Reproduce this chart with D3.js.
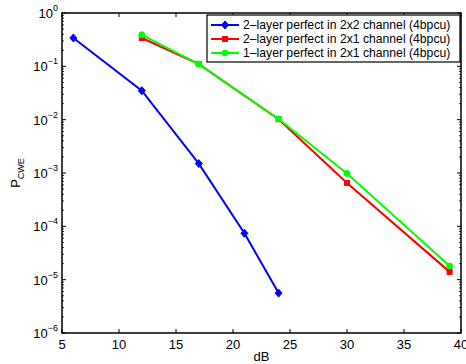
<!DOCTYPE html>
<html>
<head>
<meta charset="utf-8">
<script src="https://cdn.jsdelivr.net/npm/d3@7"></script>
<style>
  body { margin: 0; background: #fff; }
  text { font-family: "Liberation Sans", Arial, sans-serif; }
</style>
</head>
<body>
<div id="chart"></div>
<script>
// series data
const blueX = [6, 12, 17, 21, 24];
const blueY = [0.34, 0.035, 0.0015, 7.4e-5, 5.6e-6];
const redX = [12, 17, 24, 30, 39];
const redY = [0.34, 0.11, 0.0102, 6.5e-4, 1.4e-5];
const greenX = [12, 17, 24, 30, 39];
const greenY = [0.39, 0.11, 0.0103, 9.8e-4, 1.8e-5];

const xTicks = [5, 10, 15, 20, 25, 30, 35, 40];
const yExps = [0, -1, -2, -3, -4, -5, -6];
const legendLabels = [
    '2\u2013layer perfect in 2x2 channel (4bpcu)',
    '2\u2013layer perfect in 2x1 channel (4bpcu)',
    '1\u2013layer perfect in 2x1 channel (4bpcu)'
];

const series = [
    { xs: blueX, ys: blueY, color: '#0000ff', marker: 'diamond' },
    { xs: redX, ys: redY, color: '#ff0000', marker: 'square' },
    { xs: greenX, ys: greenY, color: '#00ff00', marker: 'circle' }
];

const width = 466, height = 364;
const margin = { left: 62, right: 5, top: 13, bottom: 31 };

const svg = d3.select('#chart').append('svg')
    .attr('width', width)
    .attr('height', height);

const x = d3.scaleLinear().domain([5, 40]).range([margin.left, width - margin.right]);
const y = d3.scaleLog().domain([1e-6, 1]).range([height - margin.bottom, margin.top]);

const x0 = x.range()[0], x1 = x.range()[1];
const yb = y.range()[0], yt = y.range()[1];

// frame
svg.append('rect')
    .attr('x', x0).attr('y', yt)
    .attr('width', x1 - x0).attr('height', yb - yt)
    .attr('fill', 'none').attr('stroke', '#000').attr('stroke-width', 1.5);

// x ticks (bottom and top, inward)
xTicks.forEach(t => {
    svg.append('line').attr('x1', x(t)).attr('x2', x(t)).attr('y1', yb).attr('y2', yb - 4)
        .attr('stroke', '#000');
    svg.append('line').attr('x1', x(t)).attr('x2', x(t)).attr('y1', yt).attr('y2', yt + 4)
        .attr('stroke', '#000');
    svg.append('text')
        .attr('x', x(t)).attr('y', yb + 16)
        .attr('text-anchor', 'middle')
        .attr('font-size', 13)
        .text(t);
});

// y ticks, major + minor on both sides
yExps.forEach(e => {
    const v = Math.pow(10, e);
    [[x0, 4], [x1, -4]].forEach(([px, d]) => {
        svg.append('line').attr('x1', px).attr('x2', px + d).attr('y1', y(v)).attr('y2', y(v))
            .attr('stroke', '#000');
    });
    const lab = svg.append('text')
        .attr('x', x0 - 4).attr('y', y(v) + 5)
        .attr('text-anchor', 'end')
        .attr('font-size', 13);
    lab.append('tspan').text('10');
    lab.append('tspan').attr('dy', -7).attr('font-size', 9).text(e === 0 ? '0' : '\u2212' + (-e));
    if (e > -6) {
        for (let m = 2; m <= 9; m++) {
            const mv = v / 10 * m;
            [[x0, 2], [x1, -2]].forEach(([px, d]) => {
                svg.append('line').attr('x1', px).attr('x2', px + d).attr('y1', y(mv)).attr('y2', y(mv))
                    .attr('stroke', '#000').attr('stroke-width', 0.8);
            });
        }
    }
});

// axis labels
svg.append('text')
    .attr('x', (x0 + x1) / 2).attr('y', height - 3)
    .attr('text-anchor', 'middle').attr('font-size', 13)
    .text('dB');

const yl = svg.append('text')
    .attr('transform', `translate(20,${(yt + yb) / 2}) rotate(-90)`)
    .attr('text-anchor', 'middle').attr('font-size', 13);
yl.append('tspan').text('P');
yl.append('tspan').attr('dy', 4).attr('font-size', 9).text('CWE');

function drawMarker(g, type, cx, cy, color) {
    if (type === 'diamond') {
        g.append('path')
            .attr('d', `M${cx},${cy - 4}L${cx + 3.5},${cy}L${cx},${cy + 4}L${cx - 3.5},${cy}Z`)
            .attr('fill', color).attr('stroke', color);
    } else if (type === 'square') {
        g.append('rect').attr('x', cx - 2.5).attr('y', cy - 2.5).attr('width', 5).attr('height', 5)
            .attr('fill', color).attr('stroke', color);
    } else {
        g.append('circle').attr('cx', cx).attr('cy', cy).attr('r', 3)
            .attr('fill', color).attr('stroke', color);
    }
}

const line = d3.line().x(d => x(d[0])).y(d => y(d[1]));

series.forEach(s => {
    const pts = s.xs.map((v, i) => [v, s.ys[i]]);
    const g = svg.append('g');
    g.append('path')
        .attr('d', line(pts))
        .attr('fill', 'none')
        .attr('stroke', s.color)
        .attr('stroke-width', 2);
    pts.forEach(p => drawMarker(g, s.marker, x(p[0]), y(p[1]), s.color));
});

// legend
const lg = svg.append('g');
lg.append('rect')
    .attr('x', 207).attr('y', 15)
    .attr('width', 253).attr('height', 47)
    .attr('fill', '#fff').attr('stroke', '#000').attr('stroke-width', 1.2);
legendLabels.forEach((lbl, i) => {
    const cy = 25 + i * 14;
    const s = series[i];
    lg.append('line').attr('x1', 211).attr('x2', 239).attr('y1', cy).attr('y2', cy)
        .attr('stroke', s.color).attr('stroke-width', 2);
    drawMarker(lg, s.marker, 225, cy, s.color);
    lg.append('text')
        .attr('x', 243).attr('y', cy + 4)
        .attr('font-size', 12.2)
        .text(lbl);
});
</script>
</body>
</html>
